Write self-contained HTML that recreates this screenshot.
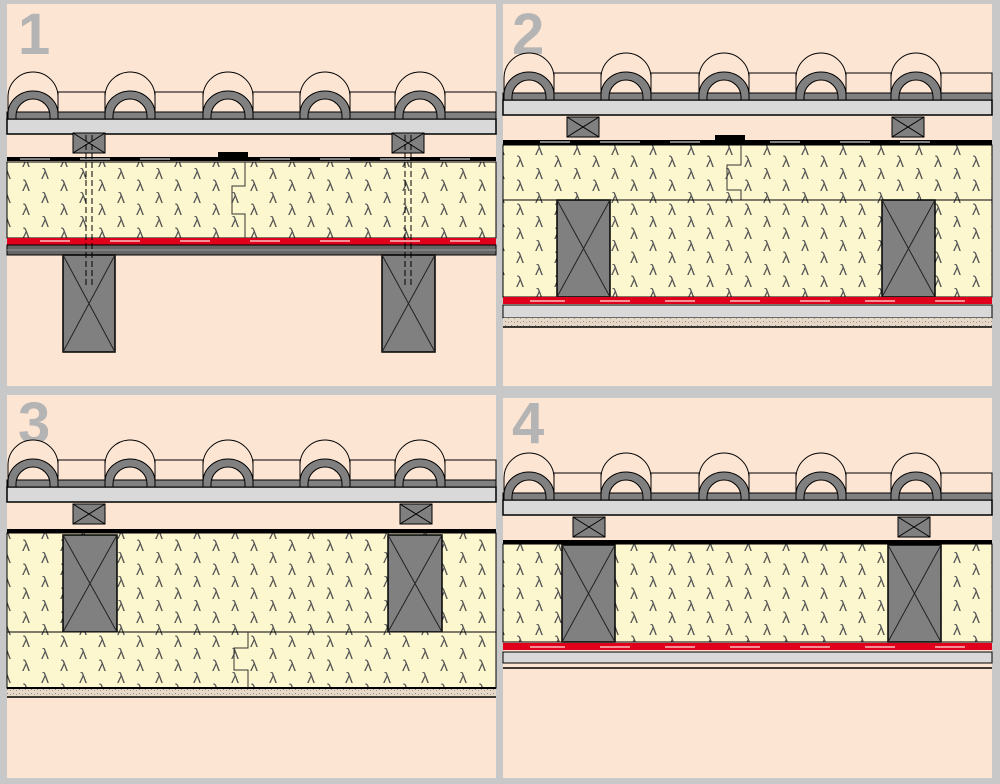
<!DOCTYPE html>
<html><head><meta charset="utf-8"><style>
html,body{margin:0;padding:0;background:#c8c8c8}
svg{display:block}
</style></head><body>
<svg width="1000" height="784" viewBox="0 0 1000 784" xmlns="http://www.w3.org/2000/svg" font-family="Liberation Sans, sans-serif">
<defs>
<pattern id="lam" width="38" height="24" patternUnits="userSpaceOnUse">
<rect width="38" height="24" fill="#fcf7cf"/>
<text x="3" y="11" font-size="16" fill="#555">λ</text>
<text x="22" y="23" font-size="16" fill="#555">λ</text>
</pattern>
<pattern id="spk" width="6" height="4" patternUnits="userSpaceOnUse">
<rect width="6" height="4" fill="#e8d8c8"/><rect x="1" y="1" width="1" height="1" fill="#888"/><rect x="4" y="2" width="1" height="1" fill="#999"/>
</pattern>
<g id="arch">
<path d="M-25,25 A25,25 0 0 1 25,25 L25,40 L-25,40 Z" fill="#fde5d3" stroke="#000" stroke-width="1"/>
<path d="M-25,47 L-25,42 A25,23 0 0 1 25,42 L25,47 L17,47 L17,44 A17,17 0 0 0 -17,44 L-17,47 Z" fill="#808080" stroke="#000" stroke-width="1"/>
</g>
<g id="tiles">
<rect x="0" y="47" width="489" height="15" fill="#d9d9d9" stroke="#000" stroke-width="1.5"/>
<rect x="0" y="40" width="489" height="7" fill="#808080" stroke="#000" stroke-width="1"/>
<rect x="51" y="20" width="47" height="20" fill="#fde5d3" stroke="#000"/>
<rect x="148" y="20" width="48" height="20" fill="#fde5d3" stroke="#000"/>
<rect x="246" y="20" width="47" height="20" fill="#fde5d3" stroke="#000"/>
<rect x="343" y="20" width="45" height="20" fill="#fde5d3" stroke="#000"/>
<rect x="438" y="20" width="51" height="20" fill="#fde5d3" stroke="#000"/>
<use href="#arch" x="26" y="0"/><use href="#arch" x="123" y="0"/><use href="#arch" x="221" y="0"/><use href="#arch" x="318" y="0"/><use href="#arch" x="413" y="0"/>
</g>
<g id="bat"><rect x="0" y="0" width="32" height="20" fill="#808080" stroke="#000"/><path d="M0,0L32,20M32,0L0,20" stroke="#000"/></g>
<g id="raf"><rect x="0" y="0" width="53" height="97" fill="#808080" stroke="#000" stroke-width="1.5"/><path d="M0,0L53,97M53,0L0,97" stroke="#222"/></g>
</defs>
<rect x="7" y="4" width="489" height="382" fill="#fde5d3"/>
<rect x="503" y="4" width="489" height="382" fill="#fde5d3"/>
<rect x="7" y="395" width="489" height="383" fill="#fde5d3"/>
<rect x="503" y="398" width="489" height="380" fill="#fde5d3"/>
<g font-size="58" font-weight="bold" fill="#b4b4b4">
<text x="18" y="54">1</text><text x="512" y="54">2</text><text x="18" y="443">3</text><text x="512" y="443">4</text>
</g>
<!-- Panel 1 -->
<use href="#tiles" x="7" y="72"/>
<use href="#bat" x="73" y="133"/><use href="#bat" x="392" y="133"/>
<rect x="7" y="157" width="489" height="4" fill="#000"/>
<path d="M20,159H50M80,159H110M140,159H170M260,159H290M320,159H350M380,159H410M440,159H470" stroke="#fff" stroke-width="1"/>
<rect x="218" y="152" width="30" height="6" fill="#000"/>
<rect x="7" y="162" width="489" height="76" fill="url(#lam)" stroke="#000"/>
<path d="M245,162V186H232V214H245V238" fill="none" stroke="#333"/>
<rect x="7" y="238" width="489" height="7" fill="#e0001b"/>
<path d="M40,241H70M110,241H140M180,241H210M250,241H280M320,241H350M390,241H420M450,241H480" stroke="#f8c0c0" stroke-width="1.5"/>
<rect x="7" y="245" width="489" height="10" fill="#666" stroke="#000"/>
<path d="M7,250H496" stroke="#999"/>
<rect x="63" y="255" width="52" height="97" fill="#808080" stroke="#000" stroke-width="1.5"/><path d="M63,255L115,352M115,255L63,352" stroke="#222"/>
<rect x="382" y="255" width="53" height="97" fill="#808080" stroke="#000" stroke-width="1.5"/><path d="M382,255L435,352M435,255L382,352" stroke="#222"/>
<path d="M86,135V285M92,135V285M405,135V285M411,135V285" stroke="#000" stroke-dasharray="6,3"/>
<!-- Panel 2 -->
<use href="#tiles" x="503" y="53"/>
<use href="#bat" x="567" y="117"/><use href="#bat" x="892" y="117"/>
<rect x="503" y="140" width="489" height="5" fill="#000"/>
<path d="M540,142H570M600,142H640M670,142H700M770,142H800M840,142H870M900,142H930" stroke="#fff" stroke-width="1"/>
<rect x="715" y="135" width="30" height="6" fill="#000"/>
<rect x="503" y="145" width="489" height="55" fill="url(#lam)" stroke="#000"/>
<path d="M741,145V165H727V190H741V200" fill="none" stroke="#333"/>
<rect x="503" y="200" width="489" height="97" fill="url(#lam)" stroke="#000"/>
<use href="#raf" x="557" y="200"/><use href="#raf" x="882" y="200"/>
<rect x="503" y="297" width="489" height="7" fill="#e0001b"/>
<path d="M530,301H565M600,301H630M665,301H695M730,301H760M800,301H830M865,301H895M935,301H965" stroke="#f8c0c0" stroke-width="1.5"/>
<rect x="503" y="305" width="489" height="13" fill="#d9d9d9" stroke="#000"/>
<rect x="503" y="318" width="489" height="9" fill="url(#spk)"/>
<path d="M503,327H992" stroke="#000" stroke-width="1.5"/>
<!-- Panel 3 -->
<use href="#tiles" x="7" y="440"/>
<use href="#bat" x="73" y="504"/><use href="#bat" x="400" y="504"/>
<rect x="7" y="529" width="489" height="4" fill="#000"/>
<rect x="7" y="533" width="489" height="99" fill="url(#lam)" stroke="#000"/>
<rect x="63" y="535" width="54" height="97" fill="#808080" stroke="#000" stroke-width="1.5"/><path d="M63,535L117,632M117,535L63,632" stroke="#222"/>
<rect x="388" y="535" width="54" height="97" fill="#808080" stroke="#000" stroke-width="1.5"/><path d="M388,535L442,632M442,535L388,632" stroke="#222"/>
<rect x="7" y="632" width="489" height="56" fill="url(#lam)" stroke="#000"/>
<path d="M248,632V648H234V670H248V688" fill="none" stroke="#333"/>
<rect x="7" y="687" width="489" height="2" fill="#000"/>
<rect x="7" y="689" width="489" height="7" fill="url(#spk)"/>
<path d="M7,697H496" stroke="#000" stroke-width="1.5"/>
<!-- Panel 4 -->
<use href="#tiles" x="503" y="453"/>
<use href="#bat" x="573" y="517"/><use href="#bat" x="898" y="517"/>
<rect x="503" y="540" width="489" height="4" fill="#000"/>
<rect x="503" y="544" width="489" height="98" fill="url(#lam)" stroke="#000"/>
<use href="#raf" x="562" y="545"/><use href="#raf" x="888" y="545"/>
<rect x="503" y="643" width="489" height="7" fill="#e0001b"/>
<path d="M530,647H565M600,647H630M665,647H695M730,647H760M800,647H830M865,647H895M935,647H965" stroke="#f8c0c0" stroke-width="1.5"/>
<rect x="503" y="652" width="489" height="11" fill="#d9d9d9" stroke="#000"/>
<path d="M503,668H992" stroke="#000" stroke-width="1.5"/>
</svg>
</body></html>
